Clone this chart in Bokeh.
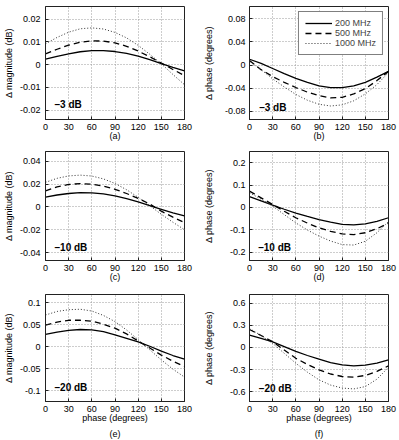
from bokeh.plotting import figure
from bokeh.layouts import column, row
from bokeh.models import Range1d, FixedTicker, Label, Title
from bokeh.embed import file_html
from bokeh.resources import INLINE

# ---------------- data ----------------
PHASE = [0, 15, 30, 45, 60, 75, 90, 105, 120, 135, 150, 165, 180]
SERIES = ["200 MHz", "500 MHz", "1000 MHz"]

# (a) magnitude error, -3 dB
MAG3_200 = [0.0025, 0.0037, 0.0048, 0.0057, 0.0062, 0.0062, 0.0058, 0.0050, 0.0038, 0.0022, 0.0005, -0.0012, -0.0027]
MAG3_500 = [0.0048, 0.0068, 0.0086, 0.0099, 0.0105, 0.0104, 0.0096, 0.0081, 0.0060, 0.0035, 0.0007, -0.0021, -0.0048]
MAG3_1000 = [0.0092, 0.0120, 0.0143, 0.0158, 0.0162, 0.0157, 0.0142, 0.0118, 0.0085, 0.0046, 0.0004, -0.0043, -0.0088]
# (b) phase error, -3 dB
PH3_200 = [0.010, 0.003, -0.006, -0.015, -0.023, -0.030, -0.036, -0.039, -0.039, -0.036, -0.030, -0.021, -0.011]
PH3_500 = [0.008, -0.008, -0.020, -0.030, -0.039, -0.047, -0.053, -0.057, -0.056, -0.050, -0.041, -0.027, -0.011]
PH3_1000 = [0.006, -0.008, -0.024, -0.038, -0.051, -0.061, -0.068, -0.071, -0.069, -0.062, -0.050, -0.034, -0.013]
# (c) magnitude error, -10 dB
MAG10_200 = [0.0086, 0.0104, 0.0117, 0.0124, 0.0123, 0.0113, 0.0096, 0.0072, 0.0043, 0.0011, -0.0022, -0.0052, -0.0078]
MAG10_500 = [0.0140, 0.0175, 0.0196, 0.0204, 0.0199, 0.0182, 0.0154, 0.0117, 0.0074, 0.0025, -0.0038, -0.0090, -0.0138]
MAG10_1000 = [0.0215, 0.0250, 0.0271, 0.0278, 0.0270, 0.0245, 0.0205, 0.0150, 0.0084, 0.0010, -0.0065, -0.0135, -0.0200]
# (d) phase error, -10 dB
PH10_200 = [0.048, 0.029, 0.010, -0.008, -0.025, -0.040, -0.054, -0.066, -0.076, -0.078, -0.073, -0.062, -0.046]
PH10_500 = [0.073, 0.043, 0.013, -0.017, -0.046, -0.070, -0.091, -0.107, -0.118, -0.121, -0.113, -0.095, -0.070]
PH10_1000 = [0.066, 0.037, 0.006, -0.032, -0.069, -0.101, -0.128, -0.150, -0.166, -0.168, -0.151, -0.113, -0.063]
# (e) magnitude error, -20 dB
MAG20_200 = [0.028, 0.033, 0.037, 0.039, 0.038, 0.034, 0.027, 0.019, 0.011, 0.001, -0.010, -0.020, -0.028]
MAG20_500 = [0.049, 0.056, 0.060, 0.060, 0.058, 0.051, 0.042, 0.029, 0.013, -0.003, -0.019, -0.033, -0.045]
MAG20_1000 = [0.072, 0.080, 0.084, 0.085, 0.081, 0.071, 0.057, 0.038, 0.016, -0.007, -0.030, -0.051, -0.069]
# (f) phase error, -20 dB
PH20_200 = [0.165, 0.120, 0.075, 0.010, -0.055, -0.110, -0.160, -0.205, -0.237, -0.250, -0.240, -0.212, -0.170]
PH20_500 = [0.242, 0.160, 0.076, -0.035, -0.148, -0.230, -0.304, -0.360, -0.394, -0.402, -0.380, -0.325, -0.250]
PH20_1000 = [0.255, 0.160, 0.054, -0.080, -0.215, -0.335, -0.439, -0.510, -0.550, -0.562, -0.530, -0.430, -0.270]

X_TICKS = [0, 30, 60, 90, 120, 150, 180]
YT_A = [-0.02, -0.01, 0, 0.01, 0.02]
YL_A = ["-0.02", "-0.01", "0", "0.01", "0.02"]
YT_B = [-0.08, -0.04, 0, 0.04, 0.08]
YL_B = ["-0.08", "-0.04", "0", "0.04", "0.08"]
YT_C = [-0.04, -0.02, 0, 0.02, 0.04]
YL_C = ["-0.04", "-0.02", "0", "0.02", "0.04"]
YT_D = [-0.2, -0.1, 0, 0.1, 0.2]
YL_D = ["-0.2", "-0.1", "0", "0.1", "0.2"]
YT_E = [-0.1, -0.05, 0, 0.05, 0.1]
YL_E = ["-0.1", "-0.05", "0", "0.05", "0.1"]
YT_F = [-0.6, -0.3, 0, 0.3, 0.6]
YL_F = ["-0.6", "-0.3", "0", "0.3", "0.6"]

LEVELS = ["\u20133 dB", "\u201310 dB", "\u201320 dB"]

# ---------------- styling ----------------
FONT = "Liberation Sans"
INK = "#222222"
LINE_STYLES = [
    dict(line_color="#000000", line_width=1.3, line_dash="solid"),
    dict(line_color="#000000", line_width=1.3, line_dash="6 4"),
    dict(line_color="#333333", line_width=1.0, line_dash="1 2"),
]


def panel(series, yrange, yticks, ylabels, ylab, xlab, tag, level, level_pos,
          left_col, height, top, bottom, ylab_standoff, legend=False):
    if left_col:
        w, bl, br, lstand = 200, 41, 16, 5
    else:
        w, bl, br, lstand = 199, 44, 11, 4
    p = figure(width=w, height=height, x_range=Range1d(0, 180),
               y_range=Range1d(*yrange), output_backend="svg",
               toolbar_location=None, min_border_left=bl, min_border_right=br,
               min_border_top=top, min_border_bottom=bottom)
    p.background_fill_color = "white"
    p.border_fill_color = "white"
    p.outline_line_color = INK
    p.outline_line_width = 1

    for ys, name, st in zip(series, SERIES, LINE_STYLES):
        if legend:
            p.line(PHASE, ys, legend_label=name, **st)
        else:
            p.line(PHASE, ys, **st)

    p.xaxis.ticker = FixedTicker(ticks=X_TICKS)
    p.yaxis.ticker = FixedTicker(ticks=yticks)
    p.yaxis.major_label_overrides = dict(zip(yticks, ylabels))
    p.axis.major_tick_in = 3
    p.axis.major_tick_out = 0
    p.axis.minor_tick_line_color = None
    p.axis.axis_line_color = INK
    p.axis.major_tick_line_color = INK
    p.axis.major_label_text_font = FONT
    p.axis.major_label_text_font_size = "9px"
    p.axis.major_label_text_color = "#000000"
    p.axis.axis_label_text_font = FONT
    p.axis.axis_label_text_font_size = "9px"
    p.axis.axis_label_text_font_style = "normal"
    p.axis.axis_label_text_color = "#000000"
    p.xaxis.major_label_standoff = 4
    p.yaxis.major_label_standoff = lstand
    p.yaxis.axis_label = ylab
    p.yaxis.axis_label_standoff = ylab_standoff
    p.xaxis.axis_label_standoff = -2
    p.grid.grid_line_color = "#9a9a9a"
    p.grid.grid_line_dash = "1 2"
    p.grid.grid_line_width = 1

    if xlab is None:
        p.xaxis.axis_label = tag
    else:
        p.xaxis.axis_label = xlab
        p.add_layout(Title(text=tag, align="center", text_font=FONT,
                           text_font_size="9px", text_font_style="normal",
                           text_color="#000000", standoff=3), "below")

    p.add_layout(Label(x=level_pos[0], y=level_pos[1], text=level,
                       text_font=FONT, text_font_size="10px",
                       text_font_style="bold", text_baseline="middle",
                       text_align="left", text_color="#000000"))

    if legend:
        lg = p.legend[0]
        lg.location = "top_right"
        lg.label_text_font = FONT
        lg.label_text_font_size = "9px"
        lg.glyph_width = 27
        lg.glyph_height = 10
        lg.label_height = 10
        lg.label_standoff = 3
        lg.spacing = 0
        lg.padding = 6
        lg.margin = 5
        lg.border_line_color = "#000000"
        lg.border_line_width = 1
        lg.background_fill_color = "white"
        lg.background_fill_alpha = 1
    return p


MAG_LAB = "\u0394 magnitude (dB)"
PH_LAB = "\u0394 phase (degrees)"
XLAB = "phase (degrees)"

# rows: height = top + frame + bottom border; total 440 x 399
pa = panel([MAG3_200, MAG3_500, MAG3_1000], (-0.0241, 0.0256), YT_A, YL_A,
           MAG_LAB, None, "(a)", LEVELS[0], (11.7, -0.0175), True, 147, 6, 28, 3)
pb = panel([PH3_200, PH3_500, PH3_1000], (-0.0944, 0.1014), YT_B, YL_B,
           PH_LAB, None, "(b)", LEVELS[0], (12.5, -0.0736), False, 147, 6, 28, 8,
           legend=True)
pc = panel([MAG10_200, MAG10_500, MAG10_1000], (-0.047, 0.0485), YT_C, YL_C,
           MAG_LAB, None, "(c)", LEVELS[1], (11.7, -0.0354), True, 143, 4, 30, 3)
pd = panel([PH10_200, PH10_500, PH10_1000], (-0.237, 0.250), YT_D, YL_D,
           PH_LAB, None, "(d)", LEVELS[1], (11.3, -0.178), False, 143, 4, 30, 13)
pe = panel([MAG20_200, MAG20_500, MAG20_1000], (-0.1244, 0.1185), YT_E, YL_E,
           MAG_LAB, XLAB, "(e)", LEVELS[2], (11.7, -0.0933), True, 150, 4, 37, 3)
pf = panel([PH20_200, PH20_500, PH20_1000], (-0.732, 0.715), YT_F, YL_F,
           PH_LAB, XLAB, "(f)", LEVELS[2], (12.1, -0.556), False, 150, 4, 37, 13)

layout = column(row(pa, pb), row(pc, pd), row(pe, pf))
open("out.html", "w").write(file_html(layout, INLINE))
